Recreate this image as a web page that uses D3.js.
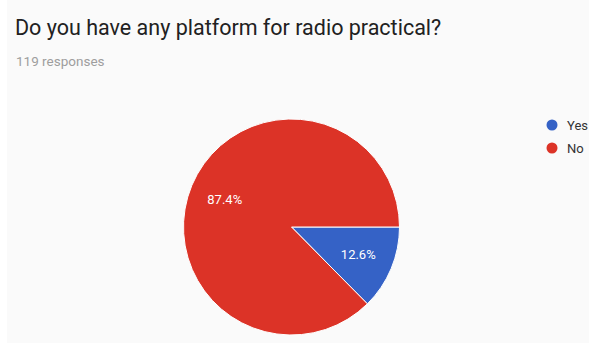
<!DOCTYPE html>
<html>
<head>
<meta charset="utf-8">
<script src="https://cdn.jsdelivr.net/npm/d3@7"></script>
<style>
  body { margin: 0; background: #fff; }
  svg { display: block; font-family: Roboto, Arial, sans-serif; }
</style>
</head>
<body>
<svg id="chart" width="589" height="343"></svg>
<script>
const categories = ['Yes', 'No'];
const percents = [12.6, 87.4];
const colors = ['#3562c6', '#dc3327'];
const title = 'Do you have any platform for radio practical?';
const subtitle = '119 responses';

const svg = d3.select('#chart');
const width = 589, height = 343;

svg.append('rect')
  .attr('x', 7).attr('y', 0)
  .attr('width', width - 7).attr('height', height)
  .attr('fill', '#fafafa');

svg.append('text')
  .text(title)
  .attr('x', 15).attr('y', 35)
  .attr('font-size', 21.5)
  .attr('fill', '#212121');

svg.append('text')
  .text(subtitle)
  .attr('x', 16).attr('y', 66)
  .attr('font-size', 13.5)
  .attr('fill', '#9e9e9e');

const cx = 291.5, cy = 227, radius = 108;
const color = d3.scaleOrdinal().domain(categories).range(colors);

const data = categories.map((c, i) => ({ cat: c, value: percents[i] }));

const pie = d3.pie()
  .sort(null)
  .value(d => d.value)
  .startAngle(Math.PI / 2)
  .endAngle(Math.PI / 2 + 2 * Math.PI);

const arc = d3.arc().innerRadius(0).outerRadius(radius);
const labelArc = d3.arc().innerRadius(radius * 0.67).outerRadius(radius * 0.67);

const g = svg.append('g').attr('transform', `translate(${cx},${cy})`);

const slices = pie(data);

g.selectAll('path')
  .data(slices)
  .join('path')
  .attr('d', arc)
  .attr('fill', d => color(d.data.cat))
  .attr('stroke', '#ffffff')
  .attr('stroke-width', 1);

g.selectAll('text')
  .data(slices)
  .join('text')
  .attr('transform', d => `translate(${labelArc.centroid(d)})`)
  .attr('text-anchor', 'middle')
  .attr('dy', '0.35em')
  .attr('font-size', 13)
  .attr('fill', '#ffffff')
  .text(d => d.data.value.toFixed(1) + '%');

// legend
const legend = svg.append('g').attr('transform', 'translate(552,125)');
const items = legend.selectAll('g')
  .data(categories)
  .join('g')
  .attr('transform', (d, i) => `translate(0,${i * 23})`);

items.append('circle')
  .attr('r', 5.5)
  .attr('fill', d => color(d));

items.append('text')
  .attr('x', 15)
  .attr('dy', '0.35em')
  .attr('font-size', 13)
  .attr('fill', '#333')
  .text(d => d);
</script>
</body>
</html>
